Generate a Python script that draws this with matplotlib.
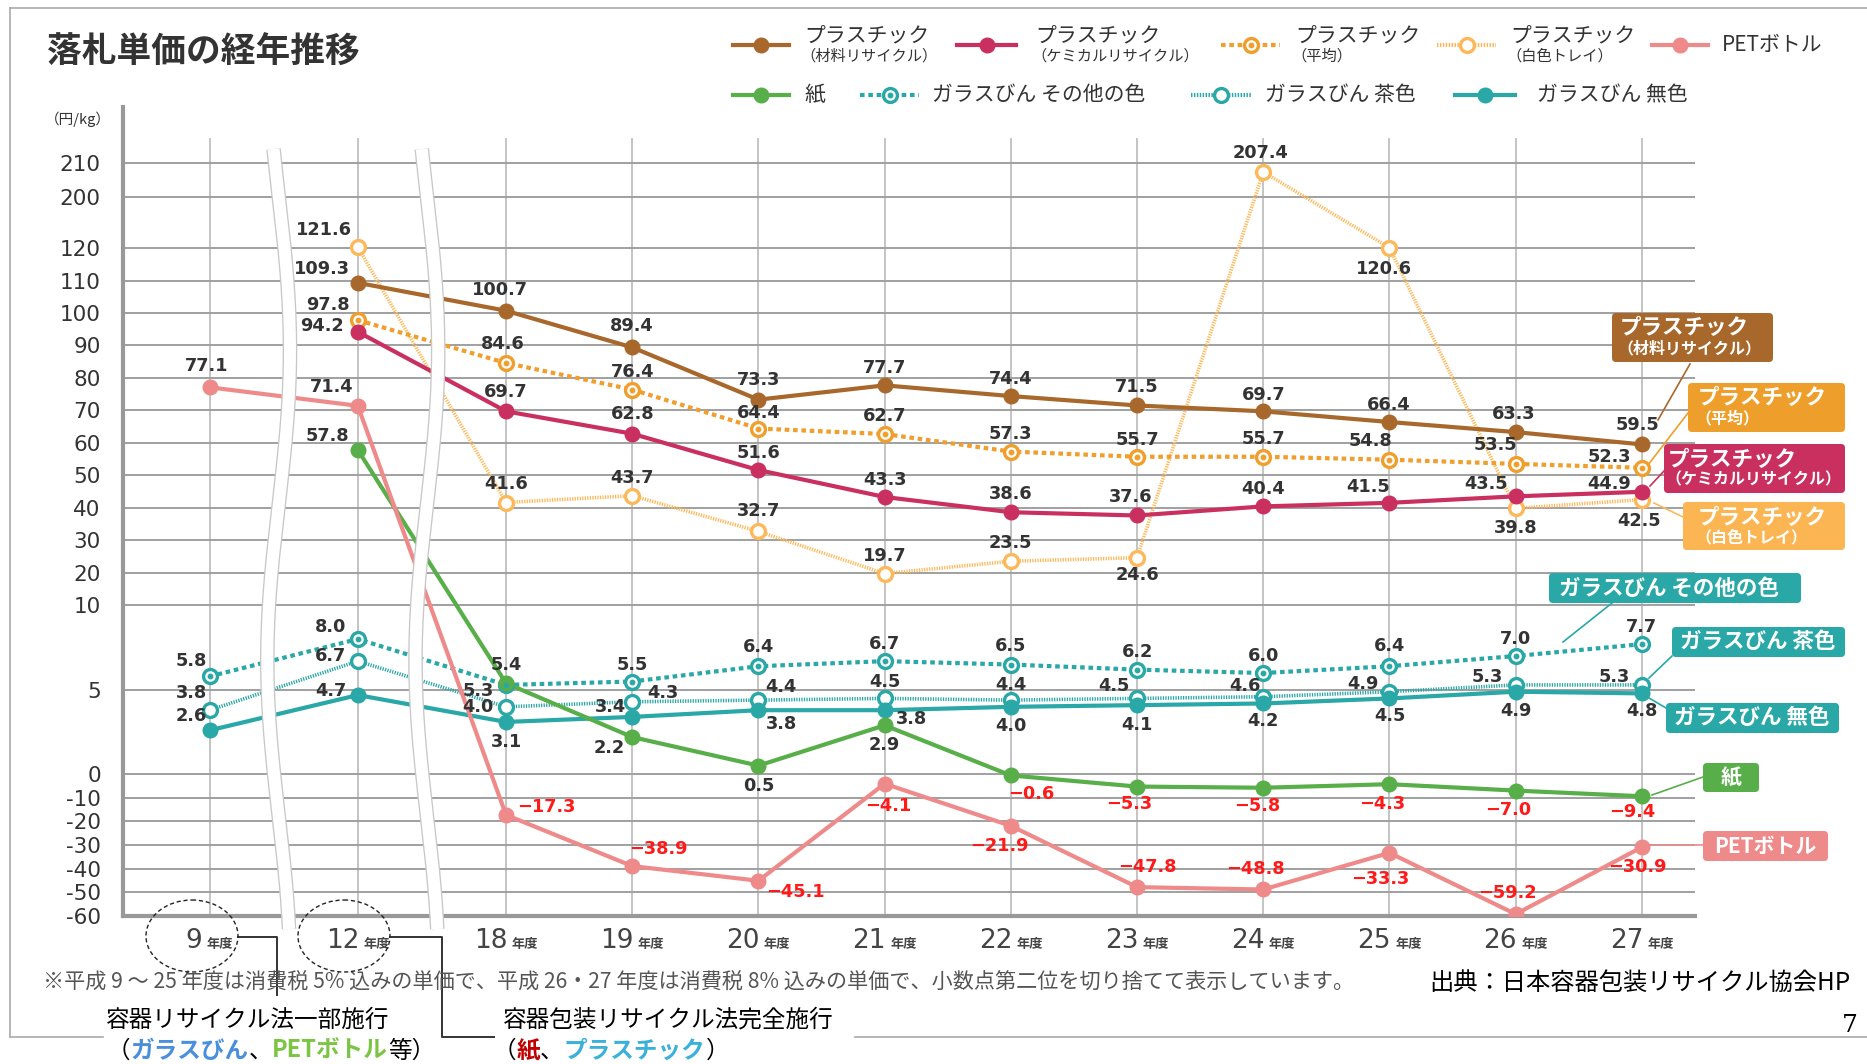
import numpy as np
import matplotlib
matplotlib.use('Agg')
import matplotlib.pyplot as plt
import matplotlib.transforms as mtransforms
from matplotlib.lines import Line2D
from matplotlib.patches import FancyBboxPatch, Ellipse
from matplotlib.offsetbox import TextArea, HPacker, AnnotationBbox

plt.rcParams['font.family'] = ['Noto Sans CJK JP', 'DejaVu Sans']

W, H = 1867, 1064

# ---- data (yen/kg), None = no value that year ----
years = ['9', '12', '18', '19', '20', '21', '22', '23', '24', '25', '26', '27']

plastic_material = [None, 109.3, 100.7, 89.4, 73.3, 77.7, 74.4, 71.5, 69.7, 66.4, 63.3, 59.5]
plastic_chemical = [None, 94.2, 69.7, 62.8, 51.6, 43.3, 38.6, 37.6, 40.4, 41.5, 43.5, 44.9]
plastic_average = [None, 97.8, 84.6, 76.4, 64.4, 62.7, 57.3, 55.7, 55.7, 54.8, 53.5, 52.3]
plastic_tray = [None, 121.6, 41.6, 43.7, 32.7, 19.7, 23.5, 24.6, 207.4, 120.6, 39.8, 42.5]
pet_bottle = [77.1, 71.4, -17.3, -38.9, -45.1, -4.1, -21.9, -47.8, -48.8, -33.3, -59.2, -30.9]
paper = [None, 57.8, 5.4, 2.2, 0.5, 2.9, -0.6, -5.3, -5.8, -4.3, -7.0, -9.4]
glass_other = [5.8, 8.0, 5.3, 5.5, 6.4, 6.7, 6.5, 6.2, 6.0, 6.4, 7.0, 7.7]
glass_brown = [3.8, 6.7, 4.0, 4.3, 4.4, 4.5, 4.4, 4.5, 4.6, 4.9, 5.3, 5.3]
glass_clear = [2.6, 4.7, 3.1, 3.4, 3.8, 3.8, 4.0, 4.1, 4.2, 4.5, 4.9, 4.8]

y_ticks = [-60, -50, -40, -30, -20, -10, 0, 5, 10, 20, 30, 40, 50, 60, 70, 80, 90, 100, 110, 120, 200, 210]

# label offsets in pixels (dx, dy), dy downwards
off_material = [None, (-36, -14), (-6, -21), (0, -21), (0, -20), (0, -17), (0, -17), (0, -18), (0, -16), (-1, -17), (-2, -18), (-4, -19)]
off_chemical = [None, (-36, -6), (0, -19), (0, -20), (0, -17), (0, -17), (0, -18), (-6, -18), (0, -17), (-21, -16), (-30, -12), (-33, -8)]
off_average = [None, (-30, -15), (-3, -19), (0, -18), (0, -16), (0, -18), (0, -18), (0, -17), (0, -18), (-19, -19), (-20, -19), (-32, -11)]
off_tray = [None, (-34, -17), (0, -19), (0, -18), (0, -20), (0, -18), (0, -18), (0, 17), (-3, -19), (-6, 21), (0, 20), (-3, 21)]
off_pet = [(-3, -21), (-26, -19), (40, -8), (26, -17), (37, 11), (4, 22), (-11, 20), (10, -20), (-8, -20), (-9, 26), (-8, -21), (-4, 20)]
off_paper = [None, (-30, -14), (0, -18), (-23, 11), (0, 20), (0, 20), (20, 19), (-8, 17), (-6, 18), (-7, 20), (-7, 19), (-10, 16)]
off_other = [(-18, -15), (-27, -12), (-28, 6), (0, -17), (0, -19), (0, -17), (0, -19), (0, -18), (0, -17), (0, -20), (0, -17), (0, -17)]
off_brown = [(-18, -17), (-27, -5), (-28, 0), (31, -9), (22, -13), (0, -16), (0, -15), (-23, -12), (-18, -11), (-27, -8), (-28, -8), (-28, -8)]
off_clear = [(-18, -14), (-27, -4), (0, 20), (-22, -10), (23, 14), (27, 9), (0, 19), (0, 20), (0, 18), (0, 18), (0, 19), (0, 18)]

C_MAT = '#A8682B'
C_CHEM = '#C9305F'
C_AVG = '#F09E2C'
C_TRAY = '#FDB85A'
C_PET = '#EF8A8A'
C_PAPER = '#58AE48'
C_GLASS = '#2AA7A7'
DOTTED = (0, (1.1, 0.9))
HATCH = (0, (0.35, 0.35))

series = [
    # values, offsets, color, linestyle, lw, open marker, centre dot
    (plastic_tray, off_tray, C_TRAY, HATCH, 2.6, True, False),
    (glass_brown, off_brown, C_GLASS, HATCH, 2.6, True, False),
    (plastic_average, off_average, C_AVG, DOTTED, 3, True, True),
    (glass_other, off_other, C_GLASS, DOTTED, 3, True, True),
    (glass_clear, off_clear, C_GLASS, '-', 3, False, False),
    (paper, off_paper, C_PAPER, '-', 3, False, False),
    (plastic_chemical, off_chemical, C_CHEM, '-', 3, False, False),
    (plastic_material, off_material, C_MAT, '-', 3, False, False),
    (pet_bottle, off_pet, C_PET, '-', 3, False, False),
]

# ---- broken y scale ----
VB = [-1000, -60, 0, 5, 10, 120, 200, 210, 1000]
HB = [-2218, 0, 142, 226, 311, 668, 719, 753, 3392]


def fwd(v):
    return np.interp(v, VB, HB)


def inv(t):
    return np.interp(t, HB, VB)


GAP = 0.1745
xs = [i + GAP * min(i, 2) for i in range(len(years))]

fig = plt.figure(figsize=(W / 100, H / 100), dpi=100)
PX = mtransforms.Affine2D().scale(1 / W, -1 / H).translate(0, 1) + fig.transFigure

ax = fig.add_axes([123 / W, 1 - 916 / H, (1695 - 123) / W, (916 - 107) / H])
ax.set_yscale('function', functions=(fwd, inv))
ax.set_ylim(-60, 226.8)
ax.set_xlim(-0.686, 11.77)
ax.set_yticks(y_ticks)
ax.set_yticklabels([str(t) for t in y_ticks], fontsize=15.5, color='#333', family='DejaVu Sans')
ax.set_xticks([])
ax.tick_params(axis='y', length=0, pad=16)
ax.grid(axis='y', color='#a0a0a0', lw=1.4, zorder=0)
ax.vlines(xs, -60, 217.5, color='#c4c4c4', lw=1.4, zorder=0.5)
for s in ['top', 'right']:
    ax.spines[s].set_visible(False)
for s in ['left', 'bottom']:
    ax.spines[s].set_color('#999999')
    ax.spines[s].set_linewidth(3)
ax.spines['left'].set_zorder(6)


def fmt(v):
    return f'{v:.1f}'.replace('-', '\u2212')


for vals, offs, color, ls, lw, is_open, dot in series:
    px = [x for x, v in zip(xs, vals) if v is not None]
    pv = [v for v in vals if v is not None]
    z = 3 if ls == HATCH else 4
    ax.plot(px, pv, color=color, ls=ls, lw=lw, zorder=z, solid_capstyle='round')
    if is_open:
        ax.plot(px, pv, ls='none', marker='o', ms=10, mfc='white', mec=color, mew=2.4, zorder=z + 0.1)
        if dot:
            ax.plot(px, pv, ls='none', marker='o', ms=3.2, color=color, zorder=z + 0.2)
    else:
        ax.plot(px, pv, ls='none', marker='o', ms=10.5, color=color, zorder=z + 0.1)
    for x, v, o in zip(xs, vals, offs):
        if v is None:
            continue
        c = '#ff1a1a' if v < 0 else '#333333'
        ax.annotate(fmt(v), (x, v), xytext=(o[0], -o[1]), textcoords='offset pixels',
                    ha='center', va='center', fontsize=12.8, fontweight='bold',
                    color=c, family='DejaVu Sans', zorder=7)

# wavy break bands
bt = mtransforms.blended_transform_factory(ax.transData, ax.transAxes)
ypx = np.linspace(149, 929, 200)
yfrac = (916 - ypx) / 809
for i in (0, 1):
    mid = (xs[i] + xs[i + 1]) / 2
    wx = mid - 0.04 + 0.09 * np.cos(2 * np.pi * (ypx - 350) / 620)
    ax.plot(wx, yfrac, transform=bt, color='#c8c8c8', lw=10.5, zorder=8, clip_on=False, solid_capstyle='butt')
    ax.plot(wx, yfrac, transform=bt, color='white', lw=8.6, zorder=8.1, clip_on=False, solid_capstyle='butt')

# x tick labels "NN 年度"
for x, yr in zip(xs, years):
    num = TextArea(yr, textprops=dict(fontsize=19, color='#444', family='DejaVu Sans'))
    unit = TextArea('年度', textprops=dict(fontsize=9.5, color='#444', fontweight='bold'))
    box = HPacker(children=[num, unit], align='baseline', pad=0, sep=3)
    ab = AnnotationBbox(box, (x, 0), xycoords=('data', 'axes fraction'), xybox=(0, -25),
                        boxcoords='offset pixels', box_alignment=(0.5, 0.5), frameon=False,
                        pad=0, annotation_clip=False)
    ax.add_artist(ab)

# ---- figure decorations (pixel coordinates, y down) ----
fig.text(47, 52, '落札単価の経年推移', transform=PX, fontsize=25, fontweight='bold',
         color='#333', va='center', ha='left')
fig.text(45, 119, '（円/kg）', transform=PX, fontsize=10.5, color='#333', va='center', ha='left')

# frame
fig.add_artist(Line2D([10, W], [8, 8], transform=PX, color='#aaaaaa', lw=1.2))
fig.add_artist(Line2D([10, 10], [8, 1037], transform=PX, color='#aaaaaa', lw=1.2))
fig.add_artist(Line2D([10, 103], [1037, 1037], transform=PX, color='#aaaaaa', lw=1.2))
fig.add_artist(Line2D([855, W], [1037, 1037], transform=PX, color='#aaaaaa', lw=1.2))

# legend
legend_items = [
    (733, 789, 45, C_MAT, '-', False, False, 'プラスチック', '（材料リサイクル）', 804),
    (957, 1016, 45, C_CHEM, '-', False, False, 'プラスチック', '（ケミカルリサイクル）', 1035),
    (1221, 1280, 45, C_AVG, DOTTED, True, True, 'プラスチック', '（平均）', 1295),
    (1437, 1496, 45, C_TRAY, HATCH, True, False, 'プラスチック', '（白色トレイ）', 1510),
    (1652, 1708, 45, C_PET, '-', False, False, 'PETボトル', None, 1722),
    (733, 789, 95, C_PAPER, '-', False, False, '紙', None, 804),
    (860, 919, 95, C_GLASS, DOTTED, True, True, 'ガラスびん その他の色', None, 932),
    (1191, 1251, 95, C_GLASS, HATCH, True, False, 'ガラスびん 茶色', None, 1265),
    (1455, 1515, 95, C_GLASS, '-', False, False, 'ガラスびん 無色', None, 1537),
]
for x0, x1, y, c, ls, is_open, dot, t1, t2, tx in legend_items:
    fig.add_artist(Line2D([x0, x1], [y, y], transform=PX, color=c, ls=ls, lw=3))
    if is_open:
        fig.add_artist(Line2D([(x0 + x1) / 2], [y], transform=PX, ls='none', marker='o', ms=10,
                              mfc='white', mec=c, mew=2.4))
        if dot:
            fig.add_artist(Line2D([(x0 + x1) / 2], [y], transform=PX, ls='none', marker='o', ms=3.2, color=c))
    else:
        fig.add_artist(Line2D([(x0 + x1) / 2], [y], transform=PX, ls='none', marker='o', ms=10.5, color=c))
    if t2:
        fig.text(tx, 35, t1, transform=PX, fontsize=15, color='#333', va='center', ha='left')
        fig.text(tx - 4, 56, t2, transform=PX, fontsize=11, color='#333', va='center', ha='left')
    else:
        fig.text(tx, y, t1, transform=PX, fontsize=15, color='#333', va='center', ha='left')

# right-hand name boxes
boxes = [
    (1612, 313, 161, 49, C_MAT, 'プラスチック', '（材料リサイクル）', 1620),
    (1688, 383, 157, 49, '#EE9E2A', 'プラスチック', '（平均）', 1698),
    (1664, 444, 181, 49, C_CHEM, 'プラスチック', '（ケミカルリサイクル）', 1668),
    (1683, 502, 162, 48, '#FBB552', 'プラスチック', '（白色トレイ）', 1698),
    (1549, 573, 252, 30, C_GLASS, 'ガラスびん その他の色', None, 1559),
    (1672, 627, 173, 30, C_GLASS, 'ガラスびん 茶色', None, 1680),
    (1666, 703, 173, 30, C_GLASS, 'ガラスびん 無色', None, 1674),
    (1703, 763, 56, 29, C_PAPER, '紙', None, None),
    (1703, 831, 125, 30, C_PET, 'PETボトル', None, None),
]
for bx, by, bw, bh, c, t1, t2, tx in boxes:
    fig.add_artist(FancyBboxPatch((bx, by), bw, bh, boxstyle='round,pad=0,rounding_size=4',
                                  transform=PX, fc=c, ec='none', zorder=9))
    if t2:
        fig.text(tx, by + 15, t1, transform=PX, fontsize=15.5, color='white', fontweight='bold',
                 va='center', ha='left', zorder=10)
        fig.text(tx - 3, by + 35, t2, transform=PX, fontsize=11.5, color='white', fontweight='bold',
                 va='center', ha='left', zorder=10)
    elif tx is None:
        fig.text(bx + bw / 2, by + bh / 2, t1, transform=PX, fontsize=15, color='white',
                 fontweight='bold', va='center', ha='center', zorder=10)
    else:
        fig.text(tx, by + bh / 2, t1, transform=PX, fontsize=15.5, color='white', fontweight='bold',
                 va='center', ha='left', zorder=10)

leaders = [
    ((1690, 364), (1658, 420), C_MAT),
    ((1688, 413), (1648, 465), C_AVG),
    ((1665, 470), (1650, 486), C_CHEM),
    ((1683, 517), (1654, 503), C_TRAY),
    ((1612, 603), (1563, 642), C_GLASS),
    ((1672, 656), (1649, 678), C_GLASS),
    ((1666, 708), (1649, 698), C_GLASS),
    ((1703, 777), (1652, 795), C_PAPER),
    ((1703, 845), (1652, 845), C_PET),
]
for a, b, c in leaders:
    fig.add_artist(Line2D([a[0], b[0]], [a[1], b[1]], transform=PX, color=c, lw=1.2, zorder=9))

# bottom notes
fig.text(43, 983, '※平成 9 ～ 25 年度は消費税 5% 込みの単価で、平成 26・27 年度は消費税 8% 込みの単価で、'
         '小数点第二位を切り捨てて表示しています。', transform=PX, fontsize=15.2, color='#555',
         va='center', ha='left')
fig.text(1850, 983, '出典：日本容器包装リサイクル協会HP', transform=PX, fontsize=17.5, color='black',
         va='center', ha='right')
fig.text(1858, 1026, '7', transform=PX, fontsize=18, color='black', family='DejaVu Serif',
         va='center', ha='right')

for cx in (192, 344):
    fig.add_artist(Ellipse((cx, 936), 92, 72, transform=PX, fill=False, ec='#222', lw=1,
                           ls=(0, (3, 2)), zorder=9))
fig.add_artist(Line2D([238, 277, 277], [937, 937, 995], transform=PX, color='#333', lw=1.4))
fig.add_artist(Line2D([390, 442, 442, 494], [937, 937, 1037, 1037], transform=PX, color='#333', lw=1.4))

fig.text(248, 1020, '容器リサイクル法一部施行', transform=PX, fontsize=17, color='black',
         va='center', ha='center')
fig.text(668, 1020, '容器包装リサイクル法完全施行', transform=PX, fontsize=17, color='black',
         va='center', ha='center')


def colored_line(parts, xy):
    kids = [TextArea(t, textprops=dict(fontsize=17, color=c, fontweight=w)) for t, c, w in parts]
    box = HPacker(children=kids, align='baseline', pad=0, sep=0)
    ab = AnnotationBbox(box, xy, xycoords=PX, box_alignment=(0.5, 0.5), frameon=False,
                        pad=0, annotation_clip=False)
    ax.add_artist(ab)


colored_line([('（', 'black', 'normal'), ('ガラスびん', '#4A8FDB', 'bold'), ('、', 'black', 'normal'),
              ('PETボトル', '#7CC544', 'bold'), ('等）', 'black', 'normal')], (271, 1051))
colored_line([('（', 'black', 'normal'), ('紙', '#C00000', 'bold'), ('、', 'black', 'normal'),
              ('プラスチック', '#3BB0D8', 'bold'), ('）', 'black', 'normal')], (611, 1051))

fig.savefig('out.png', dpi=100, facecolor='white')
